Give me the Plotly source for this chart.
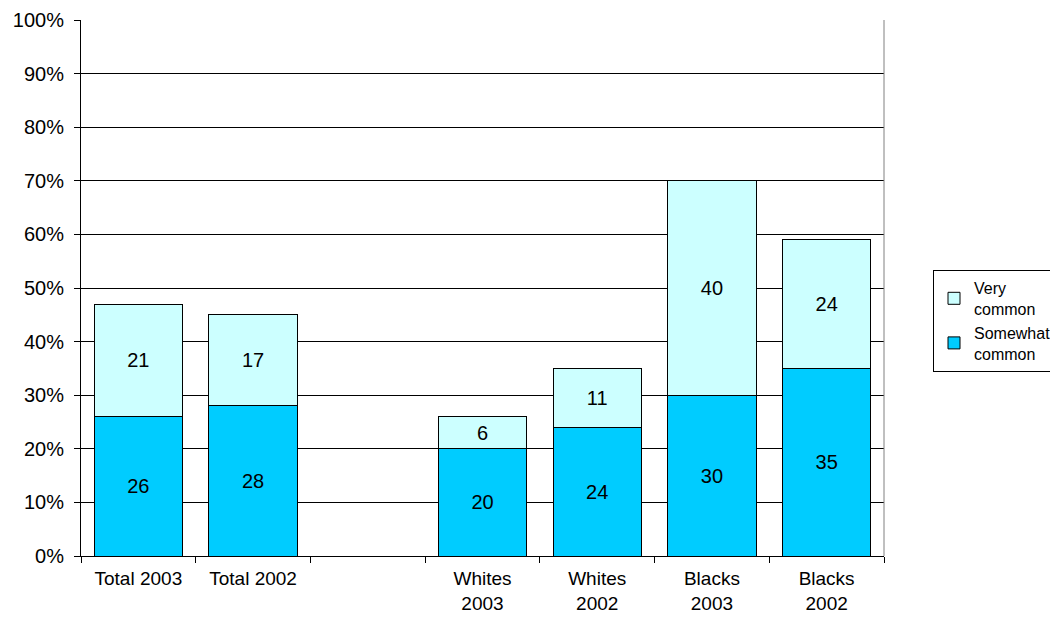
import plotly.graph_objects as go

# Share of respondents (%), stacked per group
categories = ["Total 2003", "Total 2002", " ", "Whites<br>2003", "Whites<br>2002",
              "Blacks<br>2003", "Blacks<br>2002"]
somewhat_common = [26, 28, None, 20, 24, 30, 35]
very_common = [21, 17, None, 6, 11, 40, 24]

FONT = "Liberation Sans, Arial, sans-serif"
SIZE = 20

fig = go.Figure()
fig.add_trace(go.Bar(
    name="Somewhat<br>common",
    x=categories, y=somewhat_common,
    marker=dict(color="#00CCFF", line=dict(color="#000000", width=1)),
    text=somewhat_common, textposition="inside", insidetextanchor="middle",
    textfont=dict(family=FONT, size=SIZE, color="#000000"),
    constraintext="none",
))
fig.add_trace(go.Bar(
    name="Very<br>common",
    x=categories, y=very_common,
    marker=dict(color="#CCFFFF", line=dict(color="#000000", width=1)),
    text=very_common, textposition="inside", insidetextanchor="middle",
    textfont=dict(family=FONT, size=SIZE, color="#000000"),
    constraintext="none",
))

fig.update_layout(
    barmode="stack",
    bargap=0.23,
    width=1050, height=617,
    margin=dict(l=81, r=166, t=20, b=61, autoexpand=False),
    paper_bgcolor="white", plot_bgcolor="white",
    font=dict(family=FONT, size=SIZE, color="#000000"),
    legend=dict(
        x=933 / 1050, y=1 - 270 / 617, xref="container", yref="container",
        xanchor="left", yanchor="top",
        traceorder="reversed",
        bordercolor="#000000", borderwidth=1,
        font=dict(family=FONT, size=16, color="#000000"),
        itemwidth=30, tracegroupgap=4,
    ),
    showlegend=True,
)

fig.update_xaxes(
    type="category",
    automargin=False,
    tickson="boundaries",
    ticks="outside", ticklen=6, tickcolor="#000000",
    showline=True, linecolor="#000000", linewidth=1,
    showgrid=False,
    ticklabelstandoff=5,
    tickfont=dict(family=FONT, size=19, color="#000000"),
)
fig.update_yaxes(
    automargin=False,
    range=[0, 100], dtick=10, ticksuffix="%",
    ticks="outside", ticklen=6, tickcolor="#000000",
    showline=True, linecolor="#000000", linewidth=1,
    showgrid=True, gridcolor="#000000", gridwidth=1,
    zeroline=False,
    ticklabelstandoff=6,
    tickfont=dict(family=FONT, size=SIZE, color="#000000"),
)

# Right frame edge of the plot area
fig.add_shape(type="line", xref="paper", yref="paper", x0=1, x1=1, y0=0, y1=1,
              line=dict(color="#808080", width=1))

fig.write_html("out.html")
